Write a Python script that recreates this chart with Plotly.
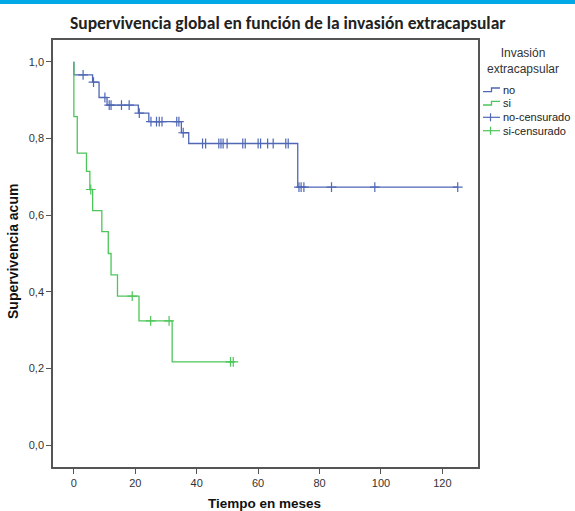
import plotly.graph_objects as go
import numpy as np

# ---- data ----
no_times = [0, 0, 6.1, 8.2, 10.8, 21.0, 24.4, 35.0, 37.4, 72.9]
no_surv = [1.0, 0.966, 0.947, 0.907, 0.887, 0.866, 0.844, 0.815, 0.787, 0.673]
no_end = 125.0
no_cens = [3.0, 6.4, 10.1, 11.5, 12.1, 15.5, 18.0, 21.3, 25.1, 26.9, 27.8, 28.7,
           33.5, 34.2, 35.6, 41.9, 42.9, 47.2, 47.9, 48.6, 49.9, 55.0, 55.8,
           60.0, 60.8, 63.1, 64.9, 69.0, 69.8, 73.3, 74.0, 74.9, 83.9, 98.0, 125.0]

si_times = [0, 0, 1.1, 4.1, 5.2, 6.1, 9.1, 11.2, 12.1, 14.2, 21.2, 32.0]
si_surv = [1.0, 0.857, 0.762, 0.714, 0.667, 0.612, 0.557, 0.500, 0.444, 0.389, 0.324, 0.217]
si_end = 52.0
si_cens = [5.5, 19.0, 25.0, 31.0, 51.0, 51.9]

x_ticks = [0, 20, 40, 60, 80, 100, 120]
y_ticks = [0.0, 0.2, 0.4, 0.6, 0.8, 1.0]

legend_labels = ["no", "si", "no-censurado", "si-censurado"]
legend_title = "Invasión<br>extracapsular"
title_text = "Supervivencia global en función de la invasión extracapsular"
y_title = "Supervivencia acum"
x_title = "Tiempo en meses"

BLUE = "#4F67B5"
GREEN = "#4CC65A"

W, H = 575, 511
L, R, T, B = 53, 97, 40, 44
PW, PH = W - L - R, H - T - B


def px(xp):
    return (xp - L) / PW


def py(yp):
    return (H - B - yp) / PH


def level_at(times, surv, t):
    idx = np.searchsorted(np.array(times), t, side="right") - 1
    return surv[max(idx, 0)]


fig = go.Figure()

fig.add_trace(go.Scatter(
    x=no_times + [no_end], y=no_surv + [no_surv[-1]], mode="lines",
    line=dict(color=BLUE, width=1.3, shape="hv"), name=legend_labels[0]))
fig.add_trace(go.Scatter(
    x=no_cens, y=[level_at(no_times, no_surv, t) for t in no_cens], mode="markers",
    marker=dict(symbol="cross-thin", size=7, line=dict(color=BLUE, width=1.2)),
    name=legend_labels[2]))
fig.add_trace(go.Scatter(
    x=si_times + [si_end], y=si_surv + [si_surv[-1]], mode="lines",
    line=dict(color=GREEN, width=1.3, shape="hv"), name=legend_labels[1]))
fig.add_trace(go.Scatter(
    x=si_cens, y=[level_at(si_times, si_surv, t) for t in si_cens], mode="markers",
    marker=dict(symbol="cross-thin", size=7, line=dict(color=GREEN, width=1.2)),
    name=legend_labels[3]))

axis_common = dict(showgrid=False, zeroline=False, showline=True, linecolor="#555555",
                   linewidth=1.5, mirror=True, ticks="outside", ticklen=5,
                   tickcolor="#555555",
                   tickfont=dict(family="Liberation Sans", size=11, color="#333333"))

# custom legend (symbols + text) and top accent bar
shapes = [dict(type="rect", xref="paper", yref="paper", x0=-0.2, x1=1.3,
               y0=py(4), y1=py(-10), fillcolor="#00A9E6", line=dict(width=0), layer="above")]
annotations = []
row_y = [89.7, 103.0, 117.3, 130.7]
colors = [BLUE, GREEN, BLUE, GREEN]
for i, (lab, yc, col) in enumerate(zip(legend_labels, row_y, colors)):
    if i < 2:
        path = "M {a},{b} L {c},{b} L {c},{d} L {e},{d}".format(
            a=px(483), b=py(yc + 2), c=px(491.5), d=py(yc - 1.7), e=px(500))
        shapes.append(dict(type="path", xref="paper", yref="paper", path=path,
                           line=dict(color=col, width=1.3)))
    else:
        shapes.append(dict(type="line", xref="paper", yref="paper", x0=px(483), x1=px(500),
                           y0=py(yc), y1=py(yc), line=dict(color=col, width=1.2)))
        shapes.append(dict(type="line", xref="paper", yref="paper", x0=px(490.5), x1=px(490.5),
                           y0=py(yc - 4), y1=py(yc + 4), line=dict(color=col, width=1.2)))
    annotations.append(dict(text=lab, xref="paper", yref="paper", x=px(500.5), y=py(yc),
                            xanchor="left", yanchor="middle", showarrow=False,
                            font=dict(family="Liberation Sans", size=11, color="#222222")))
annotations.append(dict(text=legend_title, xref="paper", yref="paper", x=px(522.5), y=py(61.5),
                        xanchor="center", yanchor="middle", showarrow=False, align="center",
                        font=dict(family="Liberation Sans", size=12, color="#333333")))

annotations += [
    dict(text="<b>" + title_text + "</b>",
         xref="paper", yref="paper", x=px(288), y=py(22.5), xanchor="center", yanchor="middle",
         showarrow=False,
         font=dict(family="Carlito, 'Roboto Condensed', sans-serif", size=17.5, color="#222222")),
    dict(text="<b>" + y_title + "</b>", xref="paper", yref="paper", x=px(13), y=py(252),
         textangle=-90, xanchor="center", yanchor="middle", showarrow=False,
         font=dict(family="Liberation Sans", size=14, color="#111111")),
    dict(text="<b>" + x_title + "</b>", xref="paper", yref="paper", x=px(264), y=py(503.5),
         xanchor="center", yanchor="middle", showarrow=False,
         font=dict(family="Liberation Sans", size=13.5, color="#111111")),
]

fig.update_layout(
    width=W, height=H,
    margin=dict(l=L, r=R, t=T, b=B, autoexpand=False),
    paper_bgcolor="white", plot_bgcolor="white",
    separators=",.",
    showlegend=False,
    xaxis=dict(range=[-6.8, 131.6], tickvals=x_ticks, **axis_common),
    yaxis=dict(range=[-0.057, 1.057], tickvals=y_ticks, tickformat=".1f", **axis_common),
    annotations=annotations,
    shapes=shapes,
)

fig.write_html("out.html", config={"displayModeBar": False},
               post_script="document.body.style.margin='0';document.body.style.padding='0';")
